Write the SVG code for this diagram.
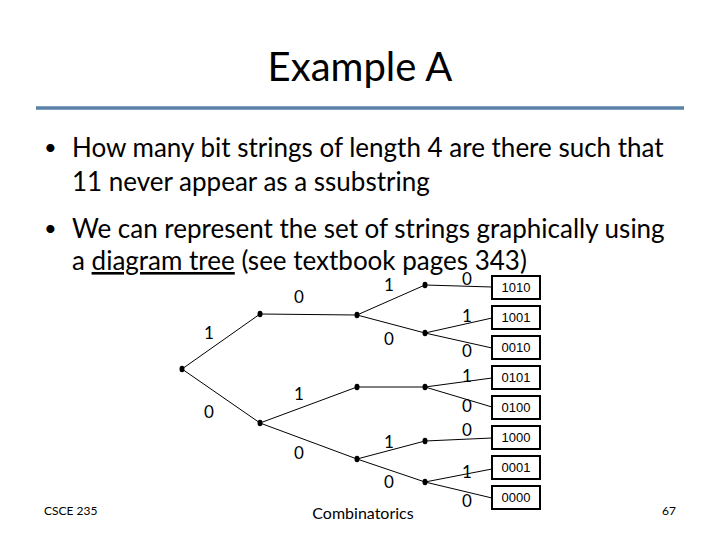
<svg xmlns="http://www.w3.org/2000/svg" width="720" height="540" viewBox="0 0 720 540">
<style>
.t{font-family:Lato,"Liberation Sans",sans-serif;fill:#000}
.title{font-size:40px}
.body{font-size:26px}
.lbl{font-family:Lato,"Liberation Sans",sans-serif;font-size:17px;text-anchor:middle}
.foot{font-family:Lato,"Liberation Sans",sans-serif;font-size:12px}
.edge{stroke:#000;stroke-width:1;fill:none}
.box rect{fill:#fff;stroke:#000;stroke-width:2}
.box text{font-family:"Liberation Sans",Arial,sans-serif;font-size:13px;text-anchor:middle}
.dot{fill:#000}
</style>
<rect width="720" height="540" fill="#fff"/>
<text class="t title" x="360" y="81" text-anchor="middle">Example A</text>
<line x1="36" y1="108" x2="684" y2="108" stroke="#5a82a6" stroke-width="3.5"/>
<g id="bullets">
<text class="t" x="44" y="155" font-size="22">•</text>
<text class="t body" x="72" y="157">How many bit strings of length 4 are there such that</text>
<text class="t body" x="72" y="191">11 never appear as a ssubstring</text>
<text class="t" x="44" y="236" font-size="22">•</text>
<text class="t body" x="72" y="238">We can represent the set of strings graphically using</text>
<text class="t body" x="72" y="270">a <tspan text-decoration="underline">diagram tree</tspan> (see textbook pages 343)</text>
</g>
<g id="connectors">
<line class="edge" x1="182" y1="369" x2="260" y2="314"/>
<line class="edge" x1="182" y1="369" x2="260" y2="423"/>
<line class="edge" x1="260" y1="314" x2="357" y2="315"/>
<line class="edge" x1="260" y1="423" x2="357" y2="387"/>
<line class="edge" x1="260" y1="423" x2="357" y2="459"/>
<line class="edge" x1="357" y1="315" x2="425" y2="285"/>
<line class="edge" x1="357" y1="315" x2="425" y2="333"/>
<line class="edge" x1="357" y1="387" x2="425" y2="387"/>
<line class="edge" x1="357" y1="459" x2="425" y2="441"/>
<line class="edge" x1="357" y1="459" x2="425" y2="482"/>
<line class="edge" x1="425" y1="285" x2="492" y2="287"/>
<line class="edge" x1="425" y1="333" x2="492" y2="318"/>
<line class="edge" x1="425" y1="333" x2="492" y2="348"/>
<line class="edge" x1="425" y1="387" x2="492" y2="378"/>
<line class="edge" x1="425" y1="387" x2="492" y2="407"/>
<line class="edge" x1="425" y1="441" x2="492" y2="438"/>
<line class="edge" x1="425" y1="482" x2="492" y2="469"/>
<line class="edge" x1="425" y1="482" x2="492" y2="498"/>
</g>
<g id="edge-labels">
<text class="lbl" x="209" y="339">1</text>
<text class="lbl" x="209" y="418">0</text>
<text class="lbl" x="299" y="303">0</text>
<text class="lbl" x="299" y="400">1</text>
<text class="lbl" x="299" y="459">0</text>
<text class="lbl" x="389" y="291">1</text>
<text class="lbl" x="389" y="345">0</text>
<text class="lbl" x="389" y="448">1</text>
<text class="lbl" x="389" y="488">0</text>
<text class="lbl" x="467" y="285">0</text>
<text class="lbl" x="467" y="322">1</text>
<text class="lbl" x="467" y="357">0</text>
<text class="lbl" x="467" y="382">1</text>
<text class="lbl" x="467" y="412">0</text>
<text class="lbl" x="467" y="436">0</text>
<text class="lbl" x="467" y="478">1</text>
<text class="lbl" x="467" y="507">0</text>
</g>
<g id="n-root"><ellipse class="dot" cx="182" cy="369" rx="2.5" ry="3.2"/></g>
<g id="n-1"><ellipse class="dot" cx="260" cy="314" rx="2.5" ry="3.2"/></g>
<g id="n-0"><ellipse class="dot" cx="260" cy="423" rx="2.5" ry="3.2"/></g>
<g id="n-10"><ellipse class="dot" cx="357" cy="315" rx="2.5" ry="3.2"/></g>
<g id="n-01"><ellipse class="dot" cx="357" cy="387" rx="2.5" ry="3.2"/></g>
<g id="n-00"><ellipse class="dot" cx="357" cy="459" rx="2.5" ry="3.2"/></g>
<g id="n-101"><ellipse class="dot" cx="425" cy="285" rx="2.5" ry="3.2"/></g>
<g id="n-100"><ellipse class="dot" cx="425" cy="333" rx="2.5" ry="3.2"/></g>
<g id="n-010"><ellipse class="dot" cx="425" cy="387" rx="2.5" ry="3.2"/></g>
<g id="n-001"><ellipse class="dot" cx="425" cy="441" rx="2.5" ry="3.2"/></g>
<g id="n-000"><ellipse class="dot" cx="425" cy="482" rx="2.5" ry="3.2"/></g>
<g id="leaf-1010" class="box"><rect x="492" y="276" width="48" height="23"/><text x="516" y="292">1010</text></g>
<g id="leaf-1001" class="box"><rect x="492" y="306" width="48" height="23"/><text x="516" y="322">1001</text></g>
<g id="leaf-0010" class="box"><rect x="492" y="336" width="48" height="23"/><text x="516" y="352">0010</text></g>
<g id="leaf-0101" class="box"><rect x="492" y="366" width="48" height="23"/><text x="516" y="382">0101</text></g>
<g id="leaf-0100" class="box"><rect x="492" y="396" width="48" height="23"/><text x="516" y="412">0100</text></g>
<g id="leaf-1000" class="box"><rect x="492" y="426" width="48" height="23"/><text x="516" y="442">1000</text></g>
<g id="leaf-0001" class="box"><rect x="492" y="456" width="48" height="23"/><text x="516" y="472">0001</text></g>
<g id="leaf-0000" class="box"><rect x="492" y="486" width="48" height="23"/><text x="516" y="502">0000</text></g>
<text class="foot" x="44" y="515">CSCE 235</text>
<text class="t" x="363" y="519" font-size="16" text-anchor="middle">Combinatorics</text>
<text class="foot" x="676" y="515" text-anchor="end">67</text>
</svg>
